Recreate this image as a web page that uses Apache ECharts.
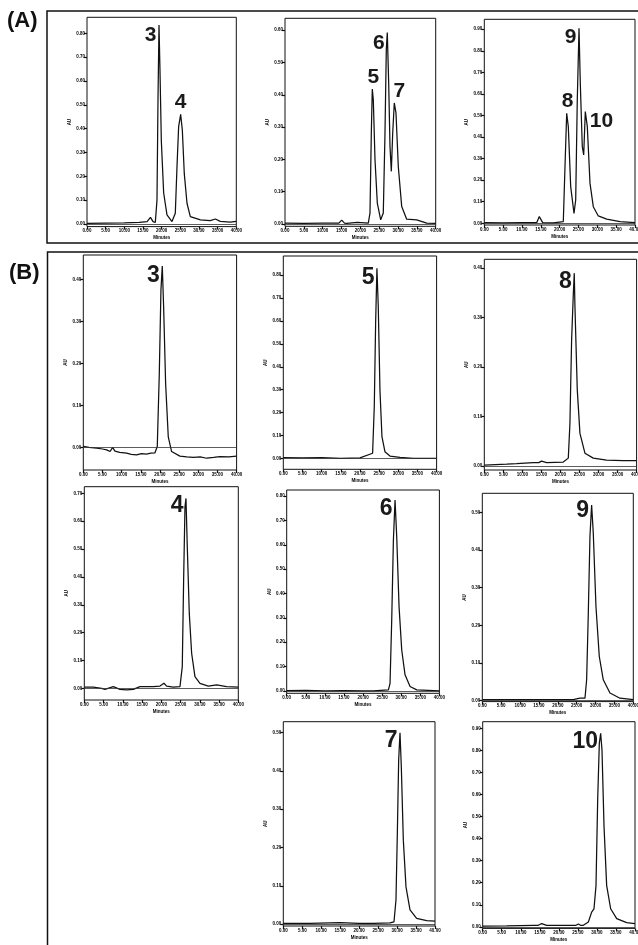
<!DOCTYPE html>
<html>
<head>
<meta charset="utf-8">
<script src="https://cdn.jsdelivr.net/npm/echarts@6/dist/echarts.min.js"></script>
<style>
  html, body { margin: 0; padding: 0; background: #fff; }
  #chart { width: 638px; height: 945px; }
</style>
</head>
<body>
<div id="chart"></div>
<script>
// retention time (min) and detector signal
const a1Time = [0, 5, 10, 14, 16.1, 17.0, 17.7, 18.3, 18.75, 19.02, 19.29, 19.55, 19.91, 20.54, 21.43, 22.77, 23.66, 24.11, 24.55, 25.09, 25.54, 26.07, 26.79, 27.68, 30.4, 33.0, 34.4, 35.7, 38.4, 40]
const a1Signal = [0.03, 0.04, 0.05, 0.07, 0.1, 0.28, 0.1, 0.06, 1.0, 5.2, 8.35, 6.46, 3.5, 1.3, 0.38, 0.1, 0.45, 2.4, 4.08, 4.6, 3.94, 2.1, 0.87, 0.31, 0.17, 0.14, 0.21, 0.11, 0.08, 0.11]
const a1Ticks = [0, 1, 2, 3, 4, 5, 6, 7, 8]
const a1Peaks = [['3', 19.3], ['4', 25.1]]

const a2Time = [0, 5, 10, 14.3, 15.05, 15.8, 16.38, 19.19, 22.11, 22.56, 22.91, 23.17, 23.44, 23.89, 24.5, 25.4, 26.09, 26.54, 26.89, 27.15, 27.52, 27.87, 28.22, 28.59, 29.01, 29.46, 30.07, 30.98, 32.3, 34.96, 37.61, 40]
const a2Signal = [0.03, 0.02, 0.03, 0.03, 0.12, 0.03, 0.02, 0.05, 0.03, 0.34, 2.82, 4.18, 3.85, 1.99, 0.65, 0.13, 0.34, 2.82, 5.4, 5.93, 4.37, 2.4, 1.63, 2.82, 3.75, 3.44, 1.78, 0.54, 0.15, 0.13, 0.03, 0.02]
const a2Ticks = [0, 1, 2, 3, 4, 5, 6]
const a2Peaks = [['5', 23.2], ['6', 27.1], ['7', 29.0]]

const a3Time = [0, 5, 10, 13.9, 14.6, 15.5, 18.3, 20.97, 21.42, 21.87, 22.3, 22.93, 23.81, 24.26, 24.68, 25.14, 25.48, 26.01, 26.38, 26.81, 27.34, 28.06, 28.93, 30.26, 32.49, 36.02, 40]
const a3Signal = [0.03, 0.02, 0.03, 0.03, 0.31, 0.03, 0.02, 0.08, 2.63, 5.1, 4.48, 1.7, 0.46, 1.08, 5.72, 9.04, 6.49, 3.55, 3.17, 5.18, 4.48, 1.85, 0.77, 0.34, 0.19, 0.08, 0.03]
const a3Ticks = [0, 1, 2, 3, 4, 5, 6, 7, 8, 9]
const a3Peaks = [['8', 21.9], ['9', 25.1], ['10', 26.8]]

const b3Time = [0, 1.5, 3.5, 5, 6.1, 7.0, 7.65, 8.26, 9.5, 11.3, 12.5, 13.9, 15.2, 16.5, 17.6, 18.7, 19.3, 19.83, 20.26, 20.61, 20.96, 21.48, 22.17, 23.04, 25.2, 27, 28.7, 30.5, 32.2, 34, 35.65, 38, 40]
const b3Signal = [0.02, 0.0, -0.02, -0.04, -0.06, -0.1, 0.0, -0.09, -0.12, -0.14, -0.17, -0.18, -0.15, -0.16, -0.14, -0.13, 0.02, 1.76, 3.75, 4.32, 3.35, 1.52, 0.25, -0.1, -0.21, -0.23, -0.24, -0.23, -0.26, -0.24, -0.22, -0.23, -0.21]
const b3Ticks = [0, 1, 2, 3, 4]
const b3Peaks = [['3', 20.6]]

const b5Time = [0, 5, 10, 15, 20, 23.3, 23.74, 24.09, 24.43, 24.78, 25.22, 25.74, 26.52, 27.83, 30.43, 33.9, 40]
const b5Signal = [0.03, 0.02, 0.03, 0.0, 0.02, 0.22, 2.26, 5.9, 8.3, 6.63, 2.98, 0.95, 0.29, 0.1, 0.04, 0.0, 0.0]
const b5Ticks = [0, 1, 2, 3, 4, 5, 6, 7, 8]
const b5Peaks = [['5', 24.4]]

const b8Time = [0, 5.86, 8.49, 12.87, 14.3, 15.05, 16.37, 20.74, 22.06, 22.49, 22.93, 23.37, 23.63, 23.81, 24.42, 25.12, 26.43, 28.62, 32.12, 36.5, 40]
const b8Signal = [0.02, 0.04, 0.05, 0.07, 0.07, 0.10, 0.07, 0.08, 0.16, 0.86, 2.55, 3.46, 3.9, 3.22, 1.54, 0.66, 0.26, 0.16, 0.12, 0.11, 0.11]
const b8Ticks = [0, 1, 2, 3, 4]
const b8Peaks = [['8', 23.6]]

const b4Time = [0, 2.34, 4.5, 5.37, 7.53, 9.26, 11.0, 12.73, 14.46, 17.92, 19.65, 20.69, 21.39, 23.12, 24.85, 25.45, 25.8, 26.15, 26.41, 26.75, 27.27, 27.88, 28.74, 30.04, 32.2, 34.37, 36.97, 40]
const b4Signal = [0.04, 0.04, 0.0, -0.04, 0.06, -0.04, -0.06, -0.04, 0.06, 0.06, 0.08, 0.18, 0.08, 0.04, 0.06, 0.78, 3.89, 6.52, 6.82, 5.08, 2.69, 1.26, 0.42, 0.18, 0.08, 0.12, 0.06, 0.04]
const b4Ticks = [0, 1, 2, 3, 4, 5, 6, 7]
const b4Peaks = [['4', 26.4]]

const b6Time = [0, 5, 10, 15, 20, 22.7, 26.64, 27.07, 27.51, 27.95, 28.38, 28.82, 29.43, 30.13, 31.0, 32.31, 34.06, 40]
const b6Signal = [0.01, 0.02, 0.0, 0.01, 0.0, 0.0, 0.04, 0.31, 2.91, 6.2, 7.84, 6.33, 3.46, 1.68, 0.66, 0.18, 0.04, 0.0]
const b6Ticks = [0, 1, 2, 3, 4, 5, 6, 7, 8]
const b6Peaks = [['6', 28.4]]

const b9Time = [0, 10, 20, 24.1, 25.87, 27.2, 27.64, 28.08, 28.52, 28.96, 29.4, 30.11, 30.99, 32.05, 33.82, 36.47, 40]
const b9Signal = [0.02, 0.02, 0.02, 0.02, 0.06, 0.06, 0.55, 2.32, 4.36, 5.2, 4.45, 2.5, 1.17, 0.55, 0.2, 0.06, 0.02]
const b9Ticks = [0, 1, 2, 3, 4, 5]
const b9Peaks = [['9', 29.0]]

const b7Time = [0, 7, 14.95, 20, 23.74, 28.13, 29.19, 29.71, 30.07, 30.42, 30.77, 31.12, 31.65, 32.35, 33.41, 35.16, 37.8, 40]
const b7Signal = [0.02, 0.02, 0.04, 0.02, 0.02, 0.03, 0.06, 0.63, 2.37, 4.28, 4.99, 4.1, 2.19, 0.97, 0.37, 0.15, 0.09, 0.08]
const b7Ticks = [0, 1, 2, 3, 4, 5]
const b7Peaks = [['7', 30.8]]

const b10Time = [0, 6.3, 13.3, 14.6, 15.49, 16.8, 23.8, 24.5, 25.12, 25.7, 26.43, 27.75, 28.62, 29.23, 29.76, 30.2, 30.63, 30.98, 31.33, 31.86, 32.56, 33.61, 35.19, 37.81, 40]
const b10Signal = [0.03, 0.04, 0.07, 0.07, 0.15, 0.07, 0.07, 0.07, 0.13, 0.07, 0.07, 0.22, 0.67, 0.82, 1.87, 5.77, 8.32, 8.77, 8.02, 4.57, 1.87, 0.82, 0.37, 0.19, 0.15]
const b10Ticks = [0, 1, 2, 3, 4, 5, 6, 7, 8, 9]
const b10Peaks = [['10', 31.0]]

// panel placement in px: box + y range + where the peak numbers sit
const panels = [
  { t: a1Time, v: a1Signal, ticks: a1Ticks, peaks: a1Peaks, box: [87, 17.3, 149.3, 209.3], y: [-0.11, 8.67], big: false,
    place: [['left', 0, 10], ['top', 0, 0]] },
  { t: a2Time, v: a2Signal, ticks: a2Ticks, peaks: a2Peaks, box: [285, 18.3, 150.7, 208], y: [-0.07, 6.37], big: false,
    place: [['top', 1, 0], ['left', 0, 11], ['top', 5, 0]] },
  { t: a3Time, v: a3Signal, ticks: a3Ticks, peaks: a3Peaks, box: [484.3, 19.3, 150.7, 205.7], y: [-0.08, 9.46], big: false,
    place: [['top', 1, 0], ['left', 0, 9], ['right', 2, 10]] },
  { t: b3Time, v: b3Signal, ticks: b3Ticks, peaks: b3Peaks, box: [83.3, 255, 153.3, 215], y: [-0.54, 4.58], big: true, place: [['left', 0, 10]] },
  { t: b5Time, v: b5Signal, ticks: b5Ticks, peaks: b5Peaks, box: [283.3, 256, 153.3, 213.3], y: [-0.48, 8.84], big: true, place: [['left', 0, 9]] },
  { t: b8Time, v: b8Signal, ticks: b8Ticks, peaks: b8Peaks, box: [484.3, 259.3, 152.3, 210.7], y: [-0.08, 4.18], big: true, place: [['left', 0, 9]] },
  { t: b4Time, v: b4Signal, ticks: b4Ticks, peaks: b4Peaks, box: [84.3, 486.7, 154, 213.3], y: [-0.42, 7.24], big: true, place: [['left', 0, 7]] },
  { t: b6Time, v: b6Signal, ticks: b6Ticks, peaks: b6Peaks, box: [286.7, 490, 152.7, 203.3], y: [-0.1, 8.25], big: true, place: [['left', 0, 9]] },
  { t: b9Time, v: b9Signal, ticks: b9Ticks, peaks: b9Peaks, box: [482.3, 493.3, 151, 208.3], y: [-0.03, 5.51], big: true, place: [['left', 0, 6]] },
  { t: b7Time, v: b7Signal, ticks: b7Ticks, peaks: b7Peaks, box: [283.3, 721.7, 151.7, 204.3], y: [-0.05, 5.28], big: true, place: [['left', 0, 8]] },
  { t: b10Time, v: b10Signal, ticks: b10Ticks, peaks: b10Peaks, box: [482.7, 721.7, 152.3, 206.7], y: [-0.07, 9.3], big: true, place: [['left', 0, 8]] }
]

const tinyText = { fontSize: 4.5, fontWeight: 'bold', color: '#000', fontFamily: 'Liberation Sans' }

// top of the peak near the given retention time
const peakPoint = (p, time) => {
  let best = 0
  p.t.forEach((tt, i) => {
    if (Math.abs(tt - time) < 1 && p.v[i] > p.v[best]) best = i
  })
  return [p.t[best], p.v[best]]
}

const grids = []
const xAxes = []
const yAxes = []
const series = []

panels.forEach((p, i) => {
  grids.push({
    left: p.box[0], top: p.box[1], width: p.box[2], height: p.box[3],
    show: true, borderColor: '#111', borderWidth: 1, backgroundColor: 'transparent',
    containLabel: false, outerBoundsMode: 'none'
  })
  xAxes.push({
    type: 'value', gridIndex: i, min: 0, max: 40, interval: 5, position: 'bottom',
    name: 'Minutes', nameLocation: 'middle', nameGap: 9, nameTextStyle: tinyText,
    axisLine: { show: false, onZero: false },
    axisTick: { show: true, length: 3, lineStyle: { color: '#111', width: 1.2 } },
    axisLabel: { ...tinyText, margin: 2, formatter: v => v.toFixed(2) },
    splitLine: { show: false }
  })
  yAxes.push({
    type: 'value', gridIndex: i, min: p.y[0], max: p.y[1], position: 'left',
    name: 'AU', nameLocation: 'middle', nameGap: 13, nameRotate: 90, nameTextStyle: tinyText,
    axisLine: { show: false, onZero: false },
    axisTick: { show: true, length: 3, customValues: p.ticks, lineStyle: { color: '#111', width: 1.2 } },
    axisLabel: { ...tinyText, margin: 2, customValues: p.ticks, formatter: v => (v / 10).toFixed(2) },
    splitLine: { show: false }
  })
  series.push({
    type: 'line', xAxisIndex: i, yAxisIndex: i,
    data: p.t.map((tt, k) => [tt, p.v[k]]),
    showSymbol: false, smooth: false, silent: true, clip: true,
    lineStyle: { color: '#111', width: 1.25 },
    markLine: {
      silent: true, symbol: 'none', label: { show: false },
      lineStyle: { color: '#333', width: 0.8, type: 'solid' },
      data: [{ yAxis: 0 }]
    },
    markPoint: {
      silent: true, symbol: 'circle', symbolSize: 1,
      itemStyle: { color: 'transparent' },
      data: p.peaks.map(([label, time], k) => {
        const [pos, dx, dy] = p.place[k]
        return {
          name: label,
          coord: peakPoint(p, time),
          label: {
            show: true, position: pos, distance: pos === 'top' ? 1 : 2, offset: [dx, dy],
            formatter: '{b}', color: '#1a1a1a', fontWeight: 'bold',
            fontFamily: 'Liberation Sans', fontSize: p.big ? 23 : 21
          }
        }
      })
    }
  })
})

const chart = echarts.init(document.getElementById('chart'))
chart.setOption({
  animation: false,
  backgroundColor: '#fff',
  grid: grids,
  xAxis: xAxes,
  yAxis: yAxes,
  series: series,
  graphic: [
    { type: 'rect', shape: { x: 47, y: 11, width: 620, height: 232 }, style: { fill: 'none', stroke: '#111', lineWidth: 1.5 } },
    { type: 'rect', shape: { x: 47.5, y: 252, width: 620, height: 720 }, style: { fill: 'none', stroke: '#111', lineWidth: 1.5 } },
    { type: 'text', left: 7, top: 10, style: { text: '(A)', fontSize: 22, fontWeight: 'bold', fontFamily: 'Liberation Sans', fill: '#111' } },
    { type: 'text', left: 9, top: 262, style: { text: '(B)', fontSize: 22, fontWeight: 'bold', fontFamily: 'Liberation Sans', fill: '#111' } }
  ]
})
</script>
</body>
</html>
